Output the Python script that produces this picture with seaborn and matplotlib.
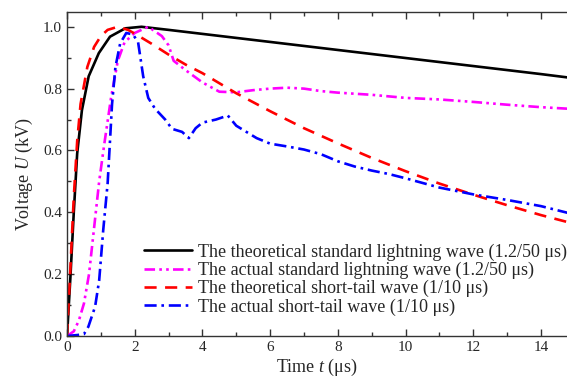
import numpy as np
import pandas as pd
import seaborn as sns
import matplotlib.pyplot as plt
from matplotlib.ticker import MultipleLocator

# values
t_std_theory = [0, 0.1, 0.2, 0.3, 0.44, 0.64, 0.94, 1.27, 1.72, 2.2, 3.0, 4.0, 5.0, 6.0,
                7.0, 8.0, 9.0, 10.0, 11.0, 12.0, 13.0, 14.0, 14.8]
u_std_theory = [0, 0.19, 0.4, 0.59, 0.73, 0.84, 0.915, 0.968, 0.995, 1.0, 0.99, 0.977, 0.964, 0.951,
                0.938, 0.925, 0.912, 0.899, 0.886, 0.873, 0.86, 0.847, 0.836]

t_std_actual = [0, 0.2, 0.35, 0.5, 0.65, 0.8, 0.95, 1.1, 1.3, 1.5, 1.7, 2.0, 2.4, 2.6, 2.8,
                3.0, 3.15, 3.5, 4.0, 4.5, 5.0, 5.5, 6.0, 6.5, 7.0, 7.5, 8.0, 9.0, 10.0,
                11.0, 12.0, 13.0, 14.0, 14.8]
u_std_actual = [0, 0.015, 0.05, 0.105, 0.2, 0.35, 0.5, 0.62, 0.77, 0.89, 0.95, 0.98, 1.0, 0.985, 0.97,
                0.94, 0.89, 0.86, 0.82, 0.79, 0.788, 0.795, 0.80, 0.803, 0.80, 0.792, 0.787, 0.78, 0.77,
                0.765, 0.757, 0.748, 0.74, 0.735]

t_short_theory = [0, 0.1, 0.2, 0.3, 0.4, 0.6, 0.8, 1.0, 1.2, 1.5, 1.8, 2.0, 2.5, 3.0, 3.5, 4.0,
                  5.0, 6.0, 7.0, 8.0, 9.0, 10.0, 11.0, 12.0, 13.0, 14.0, 14.8]
u_short_theory = [0, 0.22, 0.45, 0.63, 0.75, 0.87, 0.935, 0.97, 0.99, 1.0, 0.99, 0.978, 0.945, 0.91, 0.878, 0.85,
                  0.785, 0.727, 0.672, 0.623, 0.576, 0.533, 0.493, 0.457, 0.423, 0.391, 0.368]

t_short_actual = [0, 0.3, 0.5, 0.63, 0.83, 0.95, 1.07, 1.2, 1.33, 1.43, 1.57, 1.75, 1.95, 2.1, 2.25,
                  2.4, 2.6, 2.9, 3.1, 3.4, 3.6, 3.8, 4.0, 4.4, 4.75, 5.0, 5.3, 5.6, 6.0, 6.5,
                  7.0, 7.5, 8.0, 8.5, 9.0, 9.5, 10.0, 10.5, 11.0, 12.0, 13.0, 14.0, 14.8]
u_short_actual = [0, 0.003, 0.006, 0.03, 0.095, 0.18, 0.343, 0.494, 0.75, 0.87, 0.946, 0.98, 0.975, 0.95, 0.84,
                  0.77, 0.735, 0.70, 0.67, 0.66, 0.64, 0.672, 0.69, 0.70, 0.713, 0.68, 0.66, 0.64, 0.622, 0.613,
                  0.603, 0.588, 0.565, 0.548, 0.535, 0.524, 0.51, 0.495, 0.48, 0.458, 0.44, 0.42, 0.398]

labels = ['The theoretical standard lightning wave (1.2/50 \u03bcs)',
          'The actual standard lightning wave (1.2/50 \u03bcs)',
          'The theoretical short-tail wave (1/10 \u03bcs)',
          'The actual short-tail wave (1/10 \u03bcs)']

sns.set_theme(style='ticks')
plt.rcParams['font.family'] = ['Liberation Serif', 'DejaVu Serif']
plt.rcParams['mathtext.fontset'] = 'custom'
plt.rcParams['mathtext.rm'] = 'Liberation Serif'
plt.rcParams['mathtext.it'] = 'Liberation Serif:italic'

fig = plt.figure(figsize=(5.67, 3.79), dpi=100)
ax = fig.add_axes([0.1182, 0.1135, 0.8818, 0.855])

series = [
    (t_std_theory, u_std_theory, 'black', '-'),
    (t_std_actual, u_std_actual, '#ff00ff', (0, (4, 1.6, 1, 1.6, 1, 1.6))),
    (t_short_theory, u_short_theory, '#ff0000', (0, (4.6, 3.2))),
    (t_short_actual, u_short_actual, '#0000ff', (0, (4.6, 1.8, 1, 1.8))),
]
for (t, u, c, ls), lab in zip(series, labels):
    df = pd.DataFrame({'t': t, 'u': u})
    sns.lineplot(data=df, x='t', y='u', ax=ax, color=c, linestyle=ls, linewidth=1.9, label=lab)

ax.set_xlim(0, 14.77)
ax.set_ylim(0, 1.048)
ax.xaxis.set_major_locator(MultipleLocator(2))
ax.xaxis.set_minor_locator(MultipleLocator(1))
ax.yaxis.set_major_locator(MultipleLocator(0.2))
ax.yaxis.set_minor_locator(MultipleLocator(0.1))
ax.yaxis.set_major_formatter(plt.FormatStrFormatter('%.1f'))
ax.tick_params(which='both', direction='in', top=True, right=False, labelsize=11, color='#333333', width=1)
ax.tick_params(which='major', length=5)
ax.tick_params(which='minor', length=3)
ax.spines['right'].set_visible(False)
for s in ['left', 'bottom', 'top']:
    ax.spines[s].set_color('#333333')
    ax.spines[s].set_linewidth(1)

ax.set_xlabel('Time $t$ (\u03bcs)', fontsize=13, labelpad=2)
ax.set_ylabel('Voltage $U$ (kV)', fontsize=13, labelpad=6)

ax.legend(loc='lower left', bbox_to_anchor=(0.14, 0.04), frameon=False, fontsize=13,
          handlelength=2.65, handletextpad=0.3, labelspacing=0.06, borderaxespad=0)

fig.savefig('out.png', dpi=100)
